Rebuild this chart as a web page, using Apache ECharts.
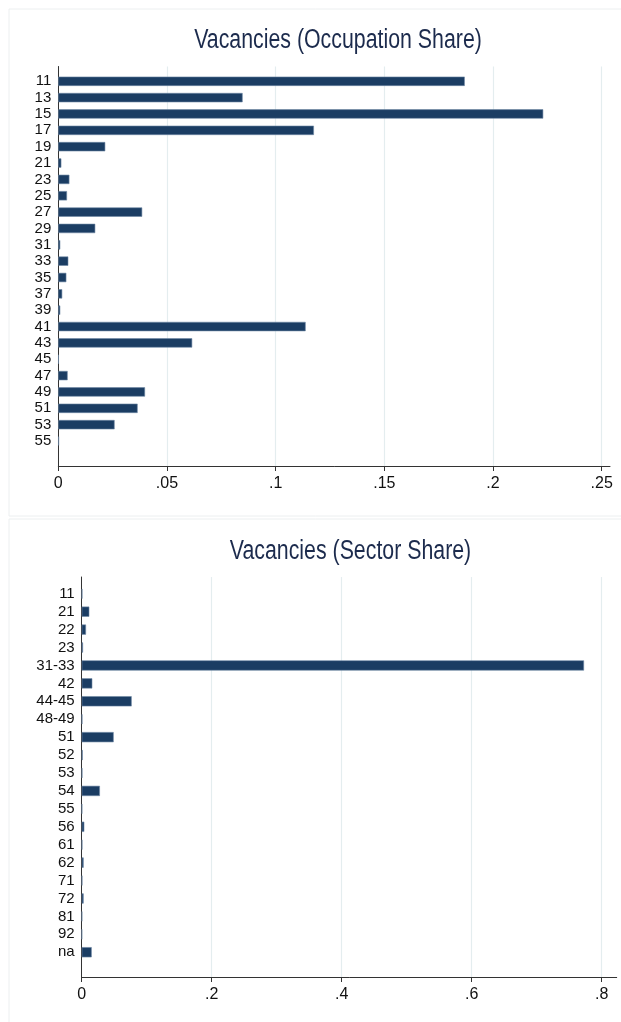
<!DOCTYPE html>
<html>
<head>
<meta charset="utf-8">
<script src="https://cdn.jsdelivr.net/npm/echarts@6/dist/echarts.min.js"></script>
<style>
html,body{margin:0;padding:0;background:#fff;}
#chart{width:621px;height:1022px;}
</style>
</head>
<body>
<div id="chart"></div>
<script>
// ---- data ----
const occTitle = 'Vacancies (Occupation Share)';
const occCategories = ['11','13','15','17','19','21','23','25','27','29','31','33','35','37','39','41','43','45','47','49','51','53','55'];
const occValues = [0.187,0.0848,0.2231,0.1176,0.0216,0.0014,0.0051,0.004,0.0386,0.017,0.0009,0.0046,0.0037,0.0018,0.0009,0.1138,0.0616,0.0002,0.0043,0.0399,0.0365,0.0259,0.0003];
const occTicks = [0,0.05,0.1,0.15,0.2,0.25];

const secTitle = 'Vacancies (Sector Share)';
const secCategories = ['11','21','22','23','31-33','42','44-45','48-49','51','52','53','54','55','56','61','62','71','72','81','92','na'];
const secValues = [0.001,0.0117,0.0066,0.002,0.7728,0.0163,0.0769,0.001,0.0492,0.0015,0.001,0.028,0.0008,0.004,0.001,0.003,0.001,0.003,0.0008,0.0005,0.0154];
const secTicks = [0,0.2,0.4,0.6,0.8];

// ---- styling ----
const H = 1022, W = 621;
const barColor = '#1b3d63';
const gridColor = '#e4edef';
const axisColor = '#333';
const titleColor = '#1c2b4d';
const font = 'Liberation Sans, Arial, Helvetica, sans-serif';
const fmt = v => { const s = String(Number(v.toFixed(3))); return s === '0' ? '0' : s.replace(/^0/, ''); };

function panel(p) {
  const last = p.ticks[p.ticks.length - 1];
  const interval = p.ticks[1] - p.ticks[0];
  const g = [
    {left: p.left, right: W - p.rightTicks, top: p.frameTop, bottom: H - p.frameBottom, containLabel: false},
    {left: p.left, right: W - p.rightLine, top: p.frameTop, bottom: H - p.frameBottom, containLabel: false},
    {left: p.left, right: W - p.rightTicks, top: p.bandTop, bottom: H - p.bandBottom, containLabel: false}
  ];
  const x = [
    {gridIndex: p.gi, type: 'value', min: 0, max: last, interval: interval,
      axisLine: {show: false},
      axisTick: {show: true, length: 5, lineStyle: {color: axisColor, width: 1}},
      axisLabel: {show: true, formatter: fmt, margin: 10, color: '#111', fontSize: 16, fontFamily: font},
      splitLine: {show: true, lineStyle: {color: gridColor, width: 1.2}}},
    {gridIndex: p.gi + 1, type: 'value', min: 0, max: 1,
      axisLine: {show: true, lineStyle: {color: axisColor, width: 1}},
      axisTick: {show: false}, axisLabel: {show: false}, splitLine: {show: false}},
    {gridIndex: p.gi + 2, type: 'value', min: 0, max: last, show: false}
  ];
  const y = [
    {gridIndex: p.gi, type: 'value', min: 0, max: 1, show: false},
    {gridIndex: p.gi + 1, type: 'value', min: 0, max: 1,
      axisLine: {show: true, lineStyle: {color: axisColor, width: 1}},
      axisTick: {show: false}, axisLabel: {show: false}, splitLine: {show: false}},
    {gridIndex: p.gi + 2, type: 'category', data: p.cats, inverse: true,
      axisLine: {show: false}, axisTick: {show: false},
      axisLabel: {show: true, margin: 7, color: '#111', fontSize: 15, fontFamily: font, interval: 0},
      splitLine: {show: false}}
  ];
  const s = {
    type: 'bar', xAxisIndex: p.gi + 2, yAxisIndex: p.gi + 2, data: p.vals,
    barWidth: '57%', itemStyle: {color: barColor, borderColor: '#6f88a4', borderWidth: 0.6},
    silent: true, animation: false
  };
  return {g, x, y, s};
}

const occPanel = panel({left: 58.3, rightTicks: 601.7, rightLine: 610, frameTop: 66.5, frameBottom: 466,
  bandTop: 73.1, bandBottom: 449.2, cats: occCategories, vals: occValues, ticks: occTicks, gi: 0});
const secPanel = panel({left: 81.7, rightTicks: 601.7, rightLine: 616.7, frameTop: 577, frameBottom: 977,
  bandTop: 584.8, bandBottom: 961.2, cats: secCategories, vals: secValues, ticks: secTicks, gi: 3});

function titleText(text, cx, cy) {
  return {type: 'text', x: cx, y: cy, scaleX: 0.79, scaleY: 1, silent: true, z: 10,
    style: {text: text, fill: titleColor, font: '27px ' + font, align: 'center', verticalAlign: 'middle'}};
}

const chart = echarts.init(document.getElementById('chart'), null, {renderer: 'canvas'});
chart.setOption({
  animation: false,
  backgroundColor: '#fff',
  graphic: [
    {type: 'rect', shape: {x: 9, y: 9, width: 640, height: 507}, style: {fill: 'none', stroke: '#eceff0', lineWidth: 1}, silent: true, z: -1},
    {type: 'rect', shape: {x: 9, y: 519, width: 640, height: 520}, style: {fill: 'none', stroke: '#eceff0', lineWidth: 1}, silent: true, z: -1},
    titleText(occTitle, 338, 41),
    titleText(secTitle, 350.5, 552)
  ],
  grid: [...occPanel.g, ...secPanel.g],
  xAxis: [...occPanel.x, ...secPanel.x],
  yAxis: [...occPanel.y, ...secPanel.y],
  series: [occPanel.s, secPanel.s]
});
</script>
</body>
</html>
